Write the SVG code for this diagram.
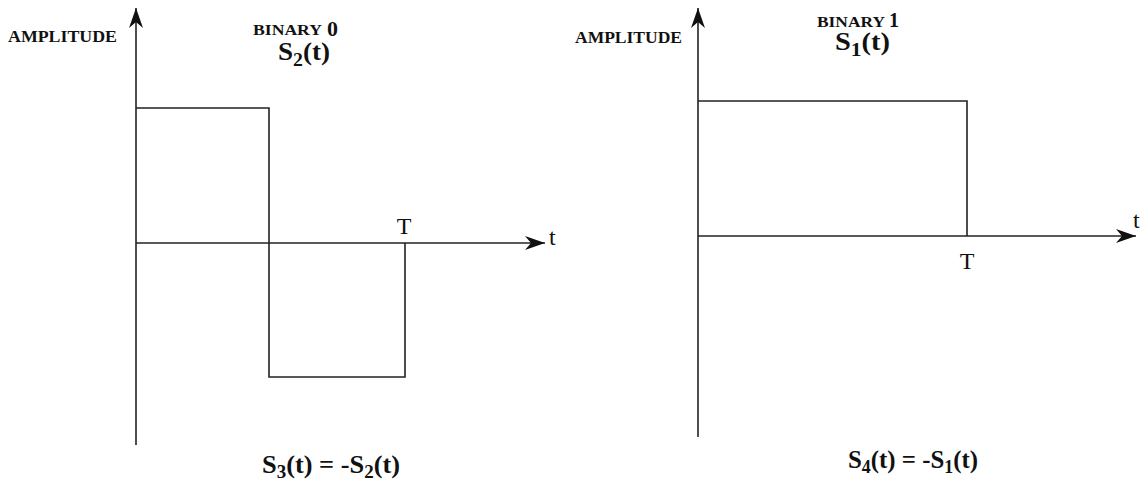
<svg xmlns="http://www.w3.org/2000/svg" width="1142" height="483" viewBox="0 0 1142 483">
<style>
.ln{stroke:#222;stroke-width:1.6;fill:none}
.b{font-family:"Liberation Serif",serif;font-weight:bold;fill:#111}
.n{font-family:"Liberation Serif",serif;fill:#111}
</style>
<defs>
<marker id="ah" markerWidth="24" markerHeight="16" refX="20" refY="7" orient="auto" markerUnits="userSpaceOnUse">
<path d="M20,7 L0,0 L6,7 L0,14 Z" fill="#111"/>
</marker>
</defs>
<rect width="1142" height="483" fill="#fff"/>
<g id="connectors">
<line class="ln" x1="136" y1="445" x2="136" y2="8" marker-end="url(#ah)"/>
<line class="ln" x1="136" y1="243" x2="545" y2="243" marker-end="url(#ah)"/>
<polyline class="ln" points="136,108 269,108 269,377 405,377 405,243"/>
<line class="ln" x1="698" y1="437" x2="698" y2="8" marker-end="url(#ah)"/>
<line class="ln" x1="698" y1="236" x2="1136" y2="236" marker-end="url(#ah)"/>
<polyline class="ln" points="698,101 967,101 967,236"/>
</g>
<g id="left-plot">
<text class="b" x="8" y="42" font-size="16" textLength="109" lengthAdjust="spacingAndGlyphs">AMPLITUDE</text>
<text class="b" x="253" y="35" font-size="14" textLength="69" lengthAdjust="spacingAndGlyphs">BINARY</text>
<text class="b" x="327" y="36" font-size="22">0</text>
<text class="b" x="278" y="60" font-size="26" textLength="52" lengthAdjust="spacingAndGlyphs">S<tspan font-size="19" dy="6">2</tspan><tspan dy="-6">(t)</tspan></text>
<text class="n" x="404" y="234" font-size="24" text-anchor="middle">T</text>
<text class="n" x="549" y="245" font-size="24">t</text>
<text class="b" x="262" y="473" font-size="25" textLength="138" lengthAdjust="spacingAndGlyphs">S<tspan font-size="18" dy="5">3</tspan><tspan dy="-5">(t) = -S</tspan><tspan font-size="18" dy="5">2</tspan><tspan dy="-5">(t)</tspan></text>
</g>
<g id="right-plot">
<text class="b" x="575" y="43" font-size="16" textLength="107" lengthAdjust="spacingAndGlyphs">AMPLITUDE</text>
<text class="b" x="817" y="27" font-size="15" textLength="68" lengthAdjust="spacingAndGlyphs">BINARY</text>
<text class="b" x="889" y="27" font-size="20">1</text>
<text class="b" x="835" y="50" font-size="25" textLength="55" lengthAdjust="spacingAndGlyphs">S<tspan font-size="19" dy="6">1</tspan><tspan dy="-6">(t)</tspan></text>
<text class="n" x="967" y="269" font-size="24" text-anchor="middle">T</text>
<text class="n" x="1133" y="228" font-size="24">t</text>
<text class="b" x="848" y="468" font-size="25" textLength="130" lengthAdjust="spacingAndGlyphs">S<tspan font-size="18" dy="5">4</tspan><tspan dy="-5">(t) = -S</tspan><tspan font-size="18" dy="5">1</tspan><tspan dy="-5">(t)</tspan></text>
</g>
</svg>
